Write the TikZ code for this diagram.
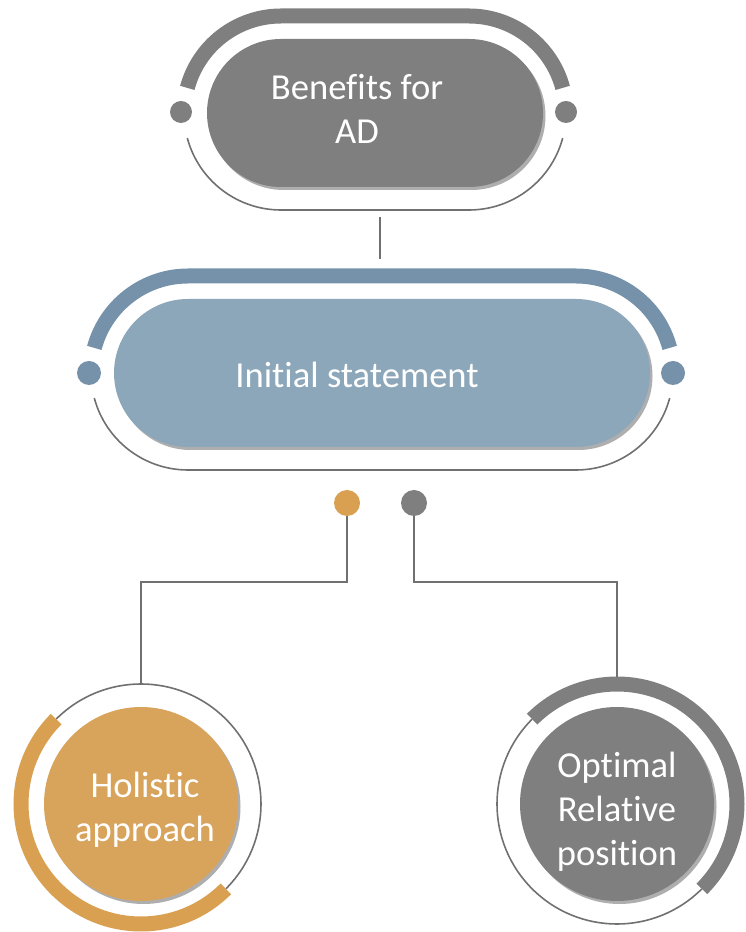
\documentclass[tikz,border=0pt]{standalone}
\usepackage{fontspec}
\setmainfont{Carlito}[Ligatures=NoCommon]
\usetikzlibrary{shapes.misc, shadows}
\definecolor{pillgray}{HTML}{7F7F7F}
\definecolor{pillblue}{HTML}{8CA7BA}
\definecolor{bandblue}{HTML}{7592AA}
\definecolor{pillorange}{HTML}{D8A35B}
\definecolor{bandorange}{HTML}{D8A050}
\definecolor{linegray}{HTML}{707070}
\tikzset{
    pill/.style={rounded rectangle, minimum height=148pt, inner sep=0pt,
        drop shadow={shadow xshift=2.5pt, shadow yshift=-3pt, opacity=.45, fill=black!70}},
    disc/.style={circle, minimum size=194pt, inner sep=0pt,
        drop shadow={shadow xshift=2.5pt, shadow yshift=-3pt, opacity=.45, fill=black!70}},
    pilltext/.style={text=white, align=center, inner sep=0pt, font=\fontsize{36.6}{44}\selectfont},
    band/.style={line width=15pt},
    hairline/.style={line width=1.6pt, draw=linegray},
    wire/.style={line width=1.8pt, draw=linegray},
    knob/.style={circle, inner sep=0pt, minimum size=#1},
    knob/.default=24pt
}

\begin{document}
\begin{tikzpicture}[x=1pt, y=1pt]
    \useasboundingbox (0,0) rectangle (746,932);
    % top pill
    \coordinate (benL) at (281,819);
    \coordinate (benR) at (469,819);
    \draw[band, draw=pillgray] (benL) ++(165:97) arc[start angle=165, end angle=90, radius=97]
        -- ++(188,0) arc[start angle=90, end angle=15, radius=97];
    \draw[hairline] (benL) ++(195:97) arc[start angle=195, end angle=270, radius=97]
        -- ++(188,0) arc[start angle=270, end angle=345, radius=97];
    \node[pill, fill=pillgray, minimum width=336pt] (ben) at (375,819) {};
    \node[pilltext] (bentxt) at (357,823) {Benefits for\\AD};
    \node[knob=22pt, fill=pillgray] (benknobL) at (181,820) {};
    \node[knob=22pt, fill=pillgray] (benknobR) at (566,820) {};
    % link
    \coordinate (linkA) at (380,715);
    \coordinate (linkB) at (380,673);
    \draw[wire] (linkA) -- (linkB);
    % middle pill
    \coordinate (iniL) at (188,559);
    \coordinate (iniR) at (576,559);
    \draw[band, draw=bandblue] (iniL) ++(165:97) arc[start angle=165, end angle=90, radius=97]
        -- ++(388,0) arc[start angle=90, end angle=15, radius=97];
    \draw[hairline] (iniL) ++(195:97) arc[start angle=195, end angle=270, radius=97]
        -- ++(388,0) arc[start angle=270, end angle=345, radius=97];
    \node[pill, fill=pillblue, minimum width=536pt] (ini) at (382,559) {};
    \node[pilltext] (initxt) at (357,557) {Initial statement};
    \node[knob, fill=bandblue] (iniknobL) at (89,559) {};
    \node[knob, fill=bandblue] (iniknobR) at (673,559) {};
    % branches
    \node[knob=26pt, fill=bandorange] (odot) at (347,429) {};
    \node[knob=26pt, fill=pillgray] (gdot) at (414,429) {};
    \draw[hairline] (141,128) ++(-45:120) arc[start angle=-45, end angle=135, radius=120];
    \draw[band, draw=bandorange] (141,128) ++(135:120) arc[start angle=135, end angle=315, radius=120];
    \draw[hairline] (617,128) ++(315:120) arc[start angle=315, end angle=135, radius=120];
    \draw[band, draw=pillgray] (617,128) ++(135:120) arc[start angle=135, end angle=-45, radius=120];
    \node[disc, fill=pillorange] (hol) at (141,128) {};
    \node[disc, fill=pillgray] (opt) at (617,128) {};
    \node[pilltext] (holtxt) at (145,122) {Holistic\\approach};
    \node[pilltext] (opttxt) at (617,120) {Optimal\\Relative\\position};
    \draw[wire] (odot.south) -- ++(0,-66) -| ([yshift=120pt]hol.center);
    \draw[wire] (gdot.south) -- ++(0,-66) -| ([yshift=127pt]opt.center);
\end{tikzpicture}
\end{document}
